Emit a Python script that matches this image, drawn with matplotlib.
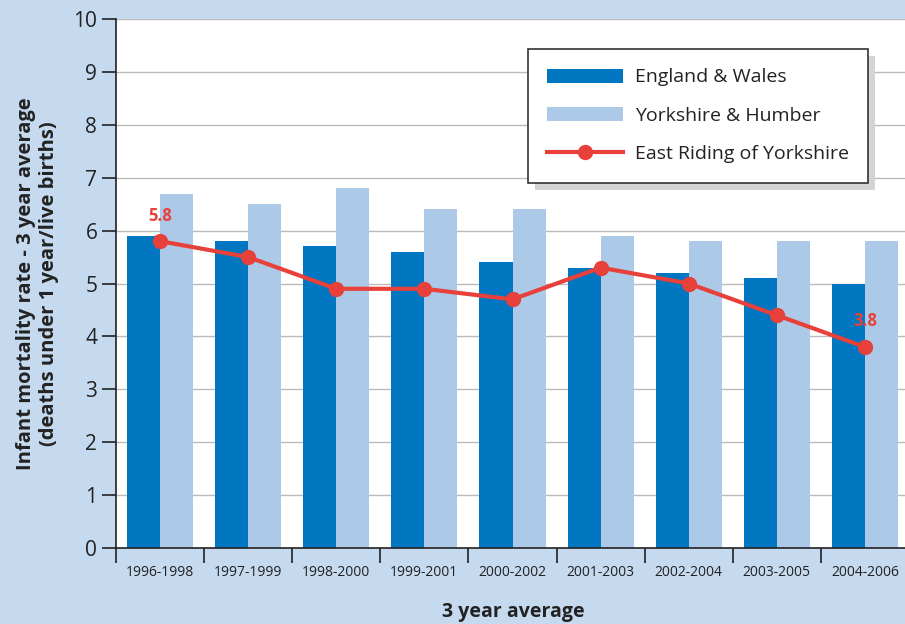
import numpy as np
import matplotlib.pyplot as plt
from matplotlib.patches import Rectangle

periods = ['1996-1998', '1997-1999', '1998-2000', '1999-2001', '2000-2002',
           '2001-2003', '2002-2004', '2003-2005', '2004-2006']
england_wales = [5.9, 5.8, 5.7, 5.6, 5.4, 5.3, 5.2, 5.1, 5.0]
yorkshire_humber = [6.7, 6.5, 6.8, 6.4, 6.4, 5.9, 5.8, 5.8, 5.8]
east_riding = [5.8, 5.5, 4.9, 4.9, 4.7, 5.3, 5.0, 4.4, 3.8]

bg = '#c5d9ef'
dark_blue = '#0077c0'
light_blue = '#adc9e8'
red = '#e8403a'
plt.rcParams['font.family'] = ['Open Sans', 'DejaVu Sans']

fig = plt.figure(figsize=(9.05, 6.24), dpi=100, facecolor=bg)
ax = fig.add_axes([116/905, 1 - 548/624, (909-116)/905, 529/624])
ax.set_facecolor('white')

x = np.arange(len(periods))
w = 0.375
b1 = ax.bar(x - w/2, england_wales, w, color=dark_blue, label='England & Wales', zorder=2)
b2 = ax.bar(x + w/2, yorkshire_humber, w, color=light_blue, label='Yorkshire & Humber', zorder=2)
ln, = ax.plot(x, east_riding, color=red, lw=3, marker='o', ms=10,
              label='East Riding of Yorkshire', zorder=3)

# labels on first and last points
for i in (0, len(x) - 1):
    ax.annotate(f'{east_riding[i]}', (x[i], east_riding[i]), xytext=(0, 12),
                textcoords='offset points', ha='center', va='bottom',
                color=red, fontsize=12, fontweight='bold')

ax.set_xlim(-0.5, len(x) - 0.5)
ax.set_ylim(0, 10)
ax.set_yticks(range(0, 11))
ax.tick_params(axis='y', labelsize=15, length=10, width=1.2, direction='out', colors='#222222')
ax.set_xticks(x)
ax.set_xticklabels(periods, fontsize=10)
ax.set_xticks(np.arange(-0.5, len(x), 1), minor=True)
ax.tick_params(axis='x', which='major', length=0, pad=12, colors='#222222')
ax.tick_params(axis='x', which='minor', length=11, width=1.2, color='#222222')
ax.grid(axis='y', color='#bbbbbb', lw=1, zorder=0)
for s in ['top', 'right']:
    ax.spines[s].set_visible(False)
for s in ['left', 'bottom']:
    ax.spines[s].set_color('#222222')
    ax.spines[s].set_linewidth(1.2)

ax.set_ylabel('Infant mortality rate - 3 year average\n(deaths under 1 year/live births)',
              fontsize=14.5, fontweight='bold', labelpad=10, color='#222222')
fig.text(513/905, 1 - 612/624, '3 year average', ha='center', va='center',
         fontsize=14, fontweight='bold', color='#222222')

leg = ax.legend([b1, b2, ln], [b1.get_label(), b2.get_label(), ln.get_label()],
                loc='upper right', bbox_to_anchor=(868/905, 1 - 49/624),
                bbox_transform=fig.transFigure,
                fontsize=14, handlelength=3.9, handleheight=0.75, labelspacing=1.05,
                borderpad=1.0, borderaxespad=0, handletextpad=0.6, fancybox=False,
                framealpha=1)
leg.get_frame().set_edgecolor('#333333')
leg.get_frame().set_linewidth(1.2)
leg.set_zorder(6)
for t in leg.get_texts():
    t.set_color('#222222')

# grey drop shadow behind the legend box
fig.canvas.draw()
bb = leg.get_window_extent().transformed(fig.transFigure.inverted())
ax.add_patch(Rectangle((bb.x0 + 7/905, bb.y0 - 7/624), bb.width, bb.height,
                       transform=fig.transFigure, facecolor='#d4d4d4',
                       edgecolor='none', zorder=5, clip_on=False))

fig.savefig('out.png', dpi=100, facecolor=bg)
